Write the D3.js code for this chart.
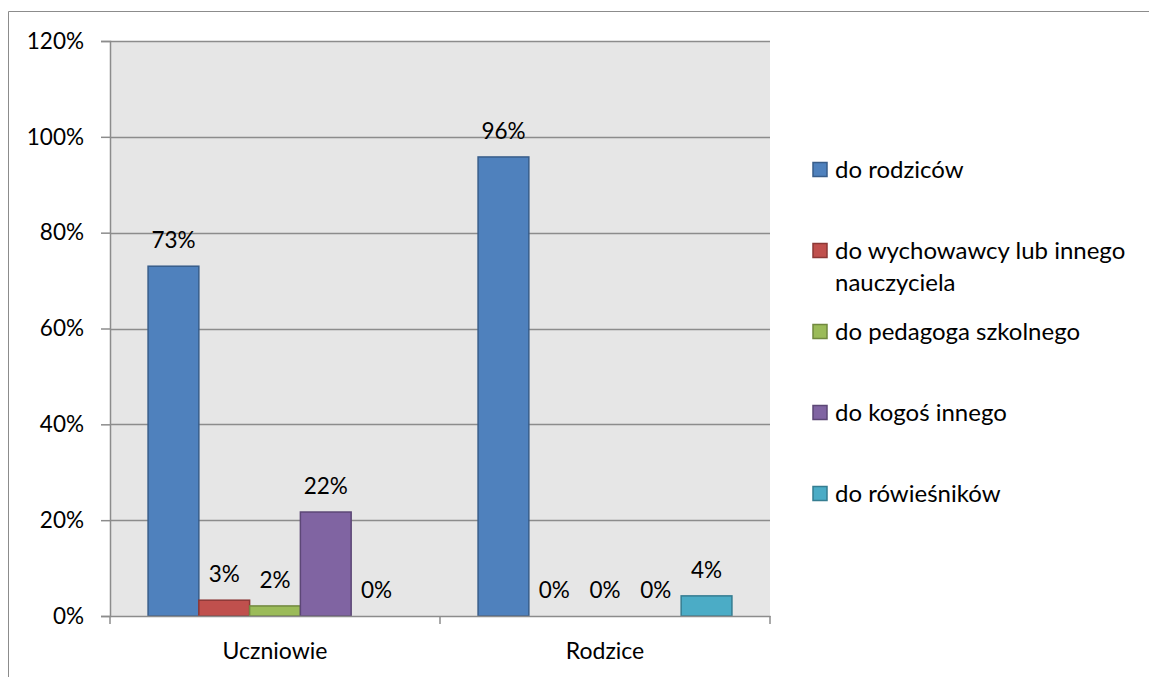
<!DOCTYPE html>
<html>
<head>
<meta charset="utf-8">
<script src="https://cdn.jsdelivr.net/npm/d3@7/dist/d3.min.js"></script>
<style>
  html, body { margin: 0; padding: 0; background: #fff; }
  svg { display: block; }
  text { font-family: Lato, "Open Sans", sans-serif; fill: #000; }
</style>
</head>
<body>
<svg id="chart" width="1149" height="677"></svg>
<script>
// ---- data ----
const categories = ["Uczniowie", "Rodzice"];
const seriesNames = [
  "do rodziców",
  "do wychowawcy lub innego nauczyciela",
  "do pedagoga szkolnego",
  "do kogoś innego",
  "do rówieśników"
];
// values per series, in category order (percent)
const valRodzicow     = [73.0, 95.8];
const valWychowawcy   = [3.3, 0];
const valPedagoga     = [2.1, 0];
const valKogos        = [21.7, 0];
const valRowiesnikow  = [0, 4.2];
// displayed data labels
const lblRodzicow     = ["73%", "96%"];
const lblWychowawcy   = ["3%", "0%"];
const lblPedagoga     = ["2%", "0%"];
const lblKogos        = ["22%", "0%"];
const lblRowiesnikow  = ["0%", "4%"];
const yTicks = [0, 20, 40, 60, 80, 100, 120];

const seriesValues = [valRodzicow, valWychowawcy, valPedagoga, valKogos, valRowiesnikow];
const seriesLabels = [lblRodzicow, lblWychowawcy, lblPedagoga, lblKogos, lblRowiesnikow];
const fills   = ["#4f81bd", "#c0504d", "#9bbb59", "#8064a2", "#4bacc6"];
const strokes = ["#385d8a", "#8c3836", "#71893f", "#5c4776", "#357d91"];

// ---- layout ----
const svg = d3.select("#chart");
const plot = { left: 110, right: 770, top: 41, bottom: 616 };
const fontSize = 22.5;
const catFontSize = 23;
const legendFontSize = 24;
const gridColor = "#8c8c8c";

// outer frame
svg.append("path")
  .attr("d", "M8.5,677 L8.5,11.5 L1149,11.5")
  .attr("fill", "none").attr("stroke", "#8c8c8c").attr("stroke-width", 1);

const x0 = d3.scaleBand().domain(categories).range([plot.left, plot.right]).paddingInner(0).paddingOuter(0);
// Excel gap width 150%: category = 5 bars + 1.5 bar
const barW = x0.bandwidth() / 6.5;
const x1 = d3.scaleBand().domain(d3.range(seriesNames.length))
  .range([barW * 0.75, barW * 0.75 + barW * seriesNames.length]);
const y = d3.scaleLinear().domain([0, 120]).range([plot.bottom, plot.top]);

// plot background
svg.append("rect")
  .attr("x", plot.left).attr("y", plot.top)
  .attr("width", plot.right - plot.left).attr("height", plot.bottom - plot.top)
  .attr("fill", "#e6e6e6");

// gridlines
svg.append("g").selectAll("line").data(yTicks.filter(t => t > 0)).join("line")
  .attr("x1", plot.left).attr("x2", plot.right)
  .attr("y1", d => Math.round(y(d)) + 0.5).attr("y2", d => Math.round(y(d)) + 0.5)
  .attr("stroke", gridColor).attr("stroke-width", 1.5);

// y axis
const yAxis = d3.axisLeft(y).tickValues(yTicks).tickFormat(d => d + "%").tickSize(9).tickPadding(17);
const gy = svg.append("g").attr("transform", `translate(${plot.left},0)`).call(yAxis);
gy.select(".domain").attr("stroke", gridColor).attr("stroke-width", 1.5);
gy.selectAll(".tick line").attr("stroke", gridColor).attr("stroke-width", 1.5);
gy.selectAll(".tick text").attr("font-size", fontSize).attr("font-family", "Lato, sans-serif").attr("fill", "#000");

// bars
const groups = svg.append("g").selectAll("g").data(categories).join("g")
  .attr("transform", d => `translate(${x0(d)},0)`);

seriesNames.forEach((name, si) => {
  groups.append("rect")
    .attr("x", (d, ci) => x1(si))
    .attr("width", x1.bandwidth())
    .attr("y", (d, ci) => y(seriesValues[si][ci]))
    .attr("height", (d, ci) => y(0) - y(seriesValues[si][ci]))
    .attr("fill", fills[si])
    .attr("stroke", strokes[si])
    .attr("stroke-width", 1.5)
    .attr("display", (d, ci) => seriesValues[si][ci] > 0 ? null : "none");
  groups.append("text")
    .attr("x", (d, ci) => x1(si) + x1.bandwidth() / 2)
    .attr("y", (d, ci) => y(seriesValues[si][ci]) - 18)
    .attr("text-anchor", "middle")
    .attr("font-size", fontSize)
    .text((d, ci) => seriesLabels[si][ci]);
});

// x axis
const xAxis = d3.axisBottom(x0).tickSize(0).tickPadding(27);
const gx = svg.append("g").attr("transform", `translate(0,${plot.bottom})`).call(xAxis);
gx.select(".domain").attr("stroke", gridColor).attr("stroke-width", 1.5);
gx.selectAll(".tick text").attr("font-size", catFontSize).attr("font-family", "Lato, sans-serif").attr("fill", "#000");
// category boundary ticks
const bounds = categories.map(c => x0(c)).concat([plot.right]);
gx.selectAll(".bnd").data(bounds).join("line").attr("class", "bnd")
  .attr("x1", d => d).attr("x2", d => d).attr("y1", 0).attr("y2", 8)
  .attr("stroke", gridColor).attr("stroke-width", 1.5);

// legend
const legend = svg.append("g");
const legendX = 813, legendY0 = 170, legendStep = 81, lineH = 32, maxW = 310;
seriesNames.forEach((name, i) => {
  const cy = legendY0 + i * legendStep;
  legend.append("rect")
    .attr("x", legendX).attr("y", cy - 7.5).attr("width", 14).attr("height", 14)
    .attr("fill", fills[i]).attr("stroke", strokes[i]).attr("stroke-width", 1.5);
  const t = legend.append("text")
    .attr("x", legendX + 22).attr("y", cy)
    .attr("font-size", legendFontSize);
  // word wrap
  const words = name.split(" ");
  let line = [], lineNo = 0;
  let tspan = t.append("tspan").attr("x", legendX + 22).attr("y", cy).attr("dy", "0.35em");
  words.forEach(w => {
    line.push(w);
    tspan.text(line.join(" "));
    if (tspan.node().getComputedTextLength() > maxW && line.length > 1) {
      line.pop();
      tspan.text(line.join(" "));
      line = [w];
      lineNo++;
      tspan = t.append("tspan").attr("x", legendX + 22).attr("y", cy + lineNo * lineH).attr("dy", "0.35em").text(w);
    }
  });
});
</script>
</body>
</html>
